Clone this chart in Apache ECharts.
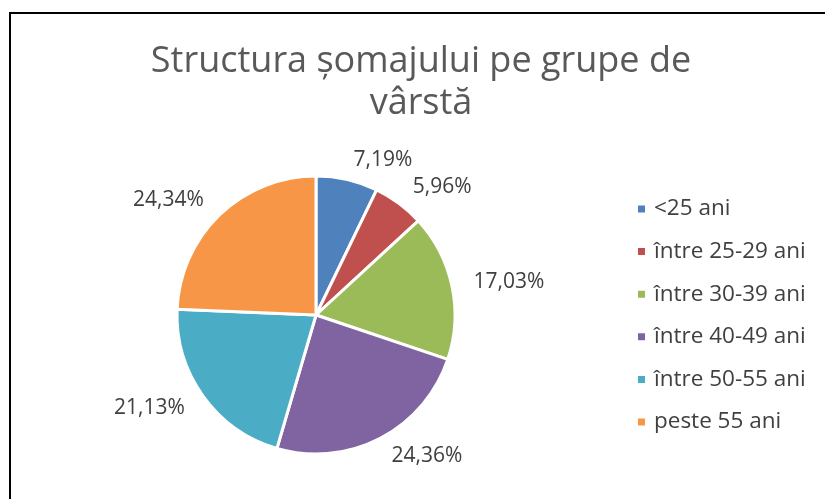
<!DOCTYPE html>
<html>
<head>
<meta charset="utf-8">
<script src="https://cdn.jsdelivr.net/npm/echarts@6/dist/echarts.min.js"></script>
<style>
  html, body { margin: 0; padding: 0; background: #fff; }
  #frame { position: absolute; left: 9px; top: 12px; right: 0; bottom: 0; border-top: 2px solid #000; border-left: 2px solid #000; }
  #main { position: absolute; left: 0; top: 0; width: 825px; height: 499px; }
</style>
</head>
<body>
<div id="frame"></div>
<div id="main"></div>
<script>
var categories = ['<25 ani', 'între 25-29 ani', 'între 30-39 ani', 'între 40-49 ani', 'între 50-55 ani', 'peste 55 ani'];
var values = [7.19, 5.96, 17.03, 24.36, 21.13, 24.34];
var colors = ['#4F81BD', '#C0504D', '#9BBB59', '#8064A2', '#4BACC6', '#F79646'];

var font = 'Open Sans';
var myChart = echarts.init(document.getElementById('main'), null, { renderer: 'canvas' });

var data = categories.map(function (name, i) {
    return { name: name, value: values[i], itemStyle: { color: colors[i] } };
});

var option = {
    backgroundColor: 'transparent',
    animation: false,
    title: {
        text: 'Structura șomajului pe grupe de\nvârstă',
        left: 416,
        top: 36,
        textAlign: 'center',
        textStyle: {
            fontFamily: font,
            fontSize: 36,
            fontWeight: 'normal',
            color: '#595959',
            lineHeight: 42
        }
    },
    legend: {
        orient: 'vertical',
        left: 631,
        top: 191,
        itemWidth: 9,
        itemHeight: 9,
        itemGap: 16.6,
        icon: 'rect',
        data: categories,
        textStyle: {
            fontFamily: font,
            fontSize: 22.5,
            color: '#404040',
            lineHeight: 26,
            padding: [0, 0, 0, 3]
        }
    },
    series: [{
        type: 'pie',
        center: [316, 315],
        radius: 139,
        startAngle: 90,
        clockwise: true,
        avoidLabelOverlap: false,
        data: data,
        itemStyle: { borderColor: '#fff', borderWidth: 3 },
        label: {
            show: true,
            position: 'outside',
            distanceToLabelLine: 2,
            fontFamily: font,
            fontSize: 21,
            color: '#404040',
            formatter: function (p) {
                return p.value.toFixed(2).replace('.', ',') + '%';
            }
        },
        labelLine: { show: false, length: 20, length2: 0 },
        emphasis: { disabled: true }
    }]
};

myChart.setOption(option);
</script>
</body>
</html>
